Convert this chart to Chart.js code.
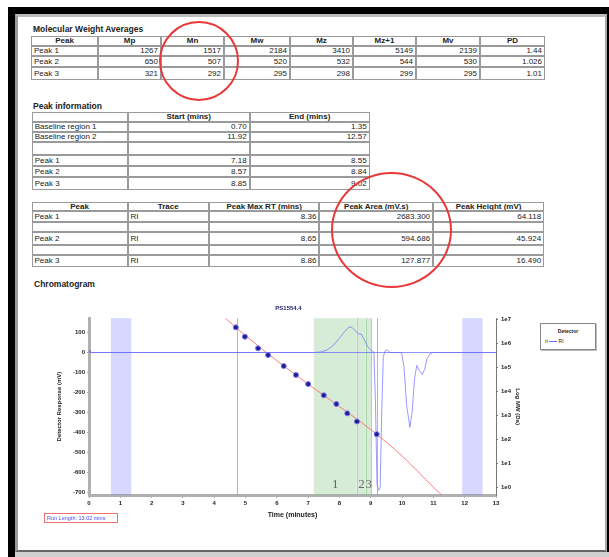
<!DOCTYPE html>
<html>
<head>
<meta charset="utf-8">
<script src="https://cdn.jsdelivr.net/npm/chart.js@4.4.0/dist/chart.umd.min.js"></script>
<style>
  html, body { margin: 0; padding: 0; background: #fff; width: 609px; height: 557px; overflow: hidden;
    font-family: "Liberation Sans", Arial, sans-serif; color: #222; }
  .abs { position: absolute; }
  #frame { left: 8px; top: 7px; width: 601px; height: 550px; background: #000; }
  #page { left: 15px; top: 14px; width: 592px; height: 538px; background: #fff; box-sizing: border-box;
    border-left: 3px solid #9a9a9a; border-top: 3px solid #bcbcbc; border-right: 2px solid #a8a8a8; border-bottom: 2px solid #666; }
  #bottomStrip { left: 15px; top: 552px; width: 594px; height: 5px; background: #d0d0d0; }
  .sect { font-size: 8.5px; font-weight: bold; color: #222; white-space: nowrap; }
  table.rep { position: absolute; border-collapse: separate; border-spacing: 0; table-layout: fixed; font-size: 8px; }
  table.rep td, table.rep th { border: 1px solid #9a9a9a; padding: 0 2px; line-height: 7px; white-space: nowrap; overflow: hidden; }
  table.rep th { font-weight: bold; text-align: center; }
  table.rep td { text-align: right; }
  table.rep td.l { text-align: left; }
  .circle { position: absolute; border: 2px solid #e8383a; border-radius: 50%; box-sizing: border-box; }
  #legendBox { left: 540px; top: 323px; width: 54px; height: 25px; border: 1px solid #888; box-shadow: 1px 1px 0 #bbb;
    background: #fff; font-size: 5px; }
  #runLen { left: 44px; top: 513px; width: 74px; height: 10px; border: 1px solid #f07070; box-sizing: border-box;
    font-size: 5.5px; color: #4a4aff; line-height: 8px; padding-left: 2px; white-space: nowrap; }
</style>
</head>
<body>
<div id="frame" class="abs"></div>
<div id="page" class="abs"></div>
<div id="bottomStrip" class="abs"></div>

<div class="abs sect" style="left:33px; top:24px;">Molecular Weight Averages</div>
<table class="rep" id="mwTable" style="left:31px; top:35.7px; width:514px;"></table>

<div class="abs sect" style="left:33px; top:101px;">Peak information</div>
<table class="rep" id="infoTable" style="left:31.7px; top:111.7px; width:338px;"></table>

<table class="rep" id="areaTable" style="left:31.5px; top:201.7px; width:512.5px;"></table>

<div class="abs sect" style="left:34px; top:279px;">Chromatogram</div>

<canvas id="chromChart" class="abs" style="left:54px; top:300px;" width="469" height="222"></canvas>

<div id="legendBox" class="abs">
  <div style="text-align:center; margin-top:4px; font-weight:bold;">Detector</div>
  <div style="margin-top:4px; margin-left:4px; white-space:nowrap;">ri <span style="display:inline-block; width:8px; border-top:1px solid #6a6aff; vertical-align:middle;"></span> RI</div>
</div>
<div id="runLen" class="abs">Run Length: 13.02 mins</div>

<div class="circle" style="left:159px; top:21px; width:80px; height:80px;"></div>
<div class="circle" style="left:331px; top:172px; width:121px; height:116px;"></div>

<script>
// ---- Tablas del informe ----
const mwHeaders = ['Peak', 'Mp', 'Mn', 'Mw', 'Mz', 'Mz+1', 'Mv', 'PD'];
const mwRows = [
  ['Peak 1', '1267', '1517', '2184', '3410', '5149', '2139', '1.44'],
  ['Peak 2', '650', '507', '520', '532', '544', '530', '1.026'],
  ['Peak 3', '321', '292', '295', '298', '299', '295', '1.01']
];
const mwColWidths = [67, 63, 63, 66, 63, 63, 64, 65];
const mwRowHeights = [10, 10, 11, 13];

const infoHeaders = ['', 'Start (mins)', 'End (mins)'];
const infoRows = [
  ['Baseline region 1', '0.70', '1.35'],
  ['Baseline region 2', '11.92', '12.57'],
  ['', '', ''],
  ['Peak 1', '7.18', '8.55'],
  ['Peak 2', '8.57', '8.84'],
  ['Peak 3', '8.85', '9.02']
];
const infoColWidths = [96, 122, 120];
const infoRowHeights = [10, 10, 10, 13.3, 11, 11, 13];

const areaHeaders = ['Peak', 'Trace', 'Peak Max RT (mins)', 'Peak Area (mV.s)', 'Peak Height (mV)'];
const areaRows = [
  ['Peak 1', 'RI', '8.36', '2683.300', '64.118'],
  ['', '', '', '', ''],
  ['Peak 2', 'RI', '8.65', '594.686', '45.924'],
  ['', '', '', '', ''],
  ['Peak 3', 'RI', '8.86', '127.877', '16.490']
];
const areaColWidths = [96, 81.5, 110.4, 113.7, 111];
const areaRowHeights = [9, 11, 10, 13.3, 10, 11.7];

function construirTabla(id, headers, rows, widths, heights, leftCols) {
  const t = document.getElementById(id);
  let html = '<colgroup>' + widths.map(w => `<col style="width:${w}px">`).join('') + '</colgroup>';
  html += `<tr style="height:${heights[0]}px">` + headers.map(h => `<th>${h}</th>`).join('') + '</tr>';
  rows.forEach((r, i) => {
    html += `<tr style="height:${heights[i + 1]}px">` +
      r.map((c, j) => `<td class="${leftCols.includes(j) ? 'l' : ''}">${c}</td>`).join('') + '</tr>';
  });
  t.innerHTML = html;
}
construirTabla('mwTable', mwHeaders, mwRows, mwColWidths, mwRowHeights, [0]);
construirTabla('infoTable', infoHeaders, infoRows, infoColWidths, infoRowHeights, [0]);
construirTabla('areaTable', areaHeaders, areaRows, areaColWidths, areaRowHeights, [0, 1]);

// ---- Datos del cromatograma ----
const traceTime = [0, 0.03, 0.08, 7.2, 7.4, 7.6, 7.8, 8.0, 8.15, 8.3, 8.4, 8.5, 8.6, 8.7, 8.8, 8.9, 9.0, 9.1,
  9.15, 9.2, 9.25, 9.3, 9.35, 9.4, 9.46, 9.52, 9.6, 9.98, 10.06, 10.15, 10.25, 10.32, 10.4, 10.47, 10.55,
  10.64, 10.72, 10.8, 10.9, 11.0, 13.0];
const traceResponse = [12, 2, 0, 0, 3, 12, 35, 72, 102, 128, 126, 110, 94, 92, 62, 30, 12, 2,
  -250, -660, -690, -680, -300, -20, 8, 14, 0, 0, -70, -270, -375, -300, -130, -65, -90,
  -110, -85, -30, -6, 0, 0];

const baselineTime = [0, 13];
const baselineResponse = [0, 0];

const calTime = [4.69, 4.98, 5.40, 5.72, 6.22, 6.61, 7.00, 7.50, 7.90, 8.25, 8.56, 9.19];
const calMW = [4640000, 1890000, 620000, 325000, 113000, 48000, 20000, 6800, 2950, 1200, 550, 162];

const fitTime = [4.36, 5.0, 6.0, 7.0, 8.0, 9.0, 10.0, 11.0, 11.26];
const fitMW = [11000000, 2100000, 190000, 20000, 2300, 250, 20, 1.0, 0.48];

const baselineRegions = [[0.70, 1.35], [11.92, 12.57]];
const peakRegions = [[7.18, 8.55], [8.57, 8.84], [8.85, 9.02]];
const peakLabels = ['1', '2', '3'];
const calLimits = [4.72, 9.21];

const timeTicks = [0, 1, 2, 3, 4, 5, 6, 7, 8, 9, 10, 11, 12, 13];
const responseTicks = [100, 0, -100, -200, -300, -400, -500, -600, -700];
const mwTicks = [1, 10, 100, 1000, 10000, 100000, 1000000, 10000000];

const toXY = (xs, ys) => xs.map((x, i) => ({ x: x, y: ys[i] }));

// Bandas, límites y etiquetas de pico
const regionesPlugin = {
  id: 'regiones',
  beforeDatasetsDraw(chart) {
    const { ctx, chartArea: a, scales: { x } } = chart;
    ctx.save();
    baselineRegions.forEach(([s, e]) => {
      const x1 = x.getPixelForValue(s), x2 = x.getPixelForValue(e);
      ctx.fillStyle = 'rgba(110,110,255,0.28)';
      ctx.fillRect(x1, a.top, x2 - x1, a.bottom - a.top);
    });
    peakRegions.forEach(([s, e]) => {
      const x1 = x.getPixelForValue(s), x2 = x.getPixelForValue(e);
      ctx.fillStyle = 'rgba(130,195,130,0.32)';
      ctx.fillRect(x1, a.top, x2 - x1, a.bottom - a.top);
      ctx.strokeStyle = 'rgba(80,160,80,0.4)';
      ctx.lineWidth = 1;
      ctx.beginPath();
      ctx.moveTo(Math.round(x2) + 0.5, a.top); ctx.lineTo(Math.round(x2) + 0.5, a.bottom);
      ctx.stroke();
    });
    ctx.strokeStyle = 'rgba(120,120,255,0.6)';
    ctx.lineWidth = 1;
    calLimits.forEach(t => {
      const px = Math.round(x.getPixelForValue(t)) + 0.5;
      ctx.beginPath(); ctx.moveTo(px, a.top); ctx.lineTo(px, a.bottom); ctx.stroke();
    });
    ctx.fillStyle = '#666';
    ctx.font = '13px "Liberation Serif", serif';
    ctx.textAlign = 'center';
    ctx.textBaseline = 'alphabetic';
    peakRegions.forEach(([s, e], i) => {
      ctx.fillText(peakLabels[i], x.getPixelForValue((s + e) / 2), a.bottom - 7);
    });
    ctx.restore();
  }
};

new Chart(document.getElementById('chromChart'), {
  type: 'line',
  data: {
    datasets: [
      {
        data: toXY(calTime, calMW), yAxisID: 'y2', showLine: false, order: 0,
        pointRadius: 2.5, pointBackgroundColor: '#1e1e8a', pointBorderColor: '#7474ff', pointBorderWidth: 1
      },
      {
        data: toXY(fitTime, fitMW), yAxisID: 'y2', order: 1, tension: 0.4, cubicInterpolationMode: 'monotone',
        borderColor: 'rgba(255,100,100,0.85)', borderWidth: 1, pointRadius: 0
      },
      {
        data: toXY(traceTime, traceResponse), yAxisID: 'y', order: 2,
        borderColor: 'rgba(110,110,255,0.7)', borderWidth: 1, pointRadius: 0, tension: 0
      },
      {
        data: toXY(baselineTime, baselineResponse), yAxisID: 'y', order: 3,
        borderColor: 'rgba(100,100,255,0.7)', borderWidth: 1.2, pointRadius: 0
      }
    ]
  },
  options: {
    responsive: false,
    animation: false,
    devicePixelRatio: 1,
    plugins: {
      legend: { display: false },
      tooltip: { enabled: false },
      title: {
        display: true, text: 'PS1554.4', color: '#1c1c6e',
        font: { size: 6, weight: 'bold', family: 'Liberation Sans' },
        padding: { top: 5, bottom: 6 }
      }
    },
    scales: {
      x: {
        type: 'linear', min: 0, max: 13,
        afterBuildTicks: s => { s.ticks = timeTicks.map(v => ({ value: v })); },
        afterFit: s => { s.height = 27; },
        grid: { drawOnChartArea: false, tickLength: 3, color: '#aaa' },
        border: { color: '#b0b0b0', width: 3 },
        ticks: { color: '#222', font: { size: 6, weight: 'bold' }, padding: 2, maxRotation: 0 },
        title: { display: true, text: 'Time (minutes)', color: '#222', font: { size: 7, weight: 'bold' }, padding: { top: 0, bottom: 3 } }
      },
      y: {
        position: 'left', min: -714, max: 172,
        afterBuildTicks: s => { s.ticks = responseTicks.map(v => ({ value: v })); },
        afterFit: s => { s.width = 35; },
        grid: { drawOnChartArea: false, tickLength: 2, color: '#aaa' },
        border: { color: '#b0b0b0', width: 3 },
        ticks: { color: '#222', font: { size: 6, weight: 'bold' }, padding: 2 },
        title: { display: true, text: 'Detector Response (mV)', color: '#222', font: { size: 6, weight: 'bold' }, padding: 2 }
      },
      y2: {
        type: 'logarithmic', position: 'right', min: 0.47, max: 11200000,
        afterBuildTicks: s => { s.ticks = mwTicks.map(v => ({ value: v })); },
        afterFit: s => { s.width = 27; },
        grid: { drawOnChartArea: false, tickLength: 2, color: '#777' },
        border: { color: '#777', width: 1 },
        ticks: { color: '#222', font: { size: 6, weight: 'bold' }, padding: 3,
          callback: v => '1e' + Math.round(Math.log10(v)) },
        title: { display: true, text: 'Log MW (Da)', color: '#222', font: { size: 6, weight: 'bold' }, padding: 2 }
      }
    }
  },
  plugins: [regionesPlugin]
});
</script>
</body>
</html>
